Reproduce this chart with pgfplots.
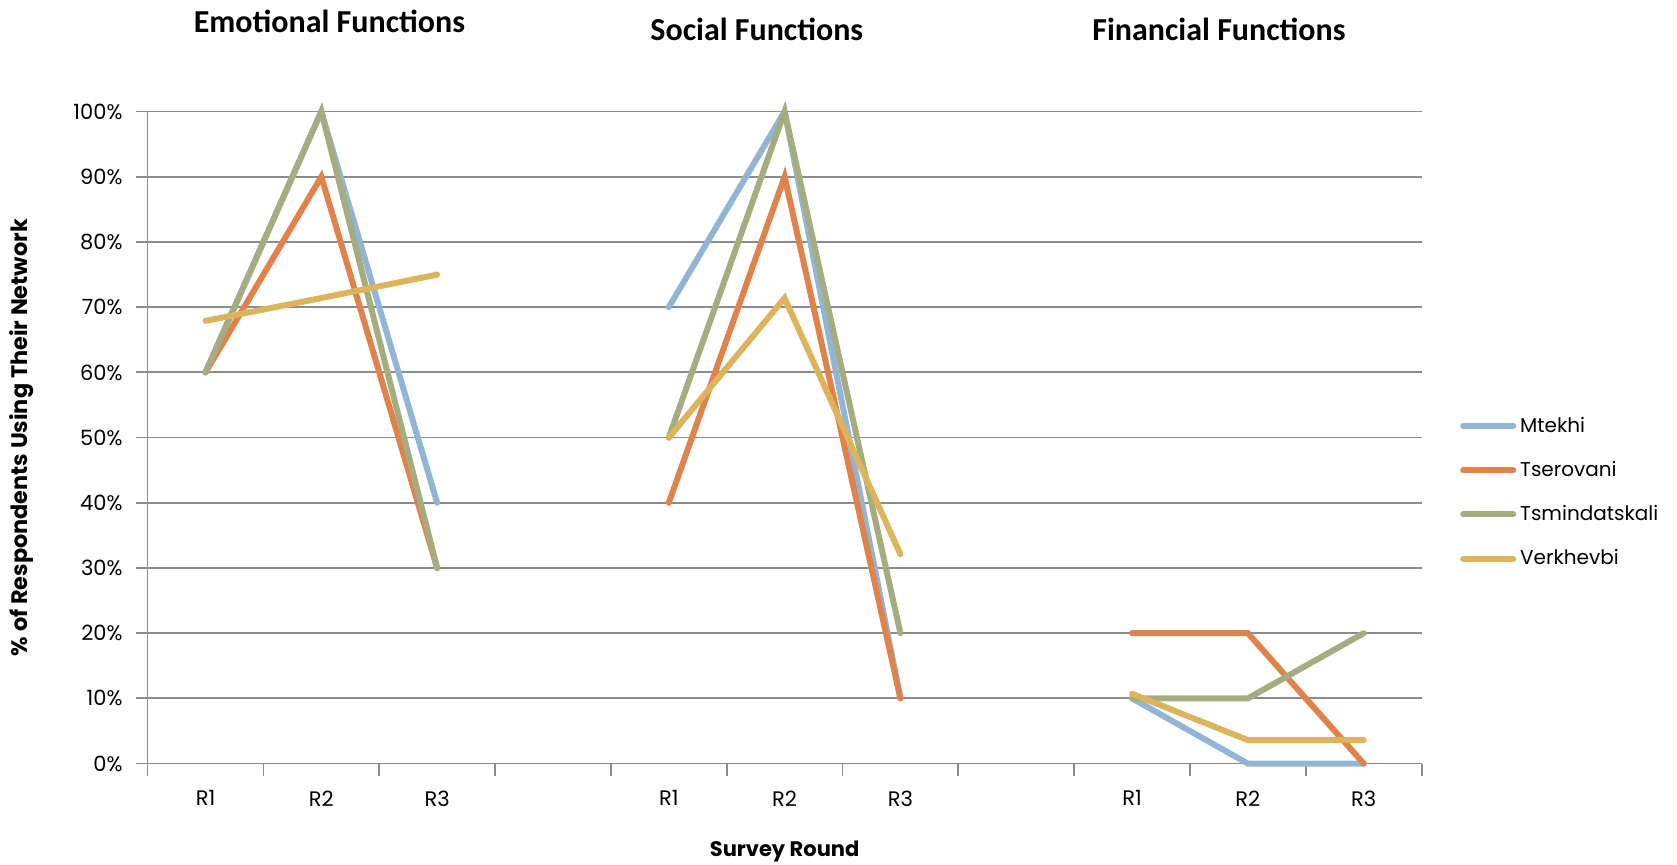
\documentclass[border=0pt]{standalone}
\usepackage{pgfplots}
\pgfplotsset{compat=1.18}
\usepackage{fontspec}
\setmainfont{Poppins}
\newfontfamily\titlefont{Carlito}
\definecolor{cMt}{HTML}{93B5D5}
\definecolor{cTs}{HTML}{E0824A}
\definecolor{cTm}{HTML}{A5AC80}
\definecolor{cVe}{HTML}{DDB45C}
\definecolor{gridc}{HTML}{8C8C8C}
\begin{document}
\begin{tikzpicture}
\begin{axis}[
  scale only axis, width=637pt, height=326pt,
  xmin=-0.5, xmax=10.5, ymin=0, ymax=100,
  axis x line*=bottom, axis y line*=left,
  axis line style={gridc, line width=0.9pt},
  xtick={-0.5,0.5,...,10.5}, xticklabels={},
  extra x ticks={0,1,2,4,5,6,8,9,10},
  extra x tick labels={R1,R2,R3,R1,R2,R3,R1,R2,R3},
  extra x tick style={major tick length=0pt, grid=none, tick label style={yshift=-10pt}},
  ytick={0,10,...,100},
  yticklabel={\pgfmathprintnumber{\tick}\%},
  /pgf/number format/assume math mode=true,
  ymajorgrids, grid style={gridc, line width=0.9pt},
  tick style={gridc, line width=0.9pt},
  major tick length=6pt,
  tick align=outside,
  tick label style={font=\fontsize{10.5}{12}\selectfont},
  yticklabel style={xshift=-3pt},
  unbounded coords=jump,
  clip=false,
  legend style={at={(rel axis cs:1.03,0.416)}, anchor=west, draw=none, fill=none,
    font=\fontsize{10}{12}\selectfont, row sep=9pt, inner xsep=0pt,
    legend cell align=left},
  legend image code/.code={\draw[#1, line width=3pt, line cap=round] (0pt,0pt) -- (25pt,0pt);},
  every axis plot/.append style={line width=3pt, line cap=round, line join=miter, mark=none},
]
\addplot[cMt] coordinates {(0,60)(1,100)(2,40)(3,nan)(4,70)(5,100)(6,10)(7,nan)(8,10)(9,0)(10,0)};
\addlegendentry{Mtekhi}
\addplot[cTs] coordinates {(0,60)(1,90)(2,30)(3,nan)(4,40)(5,90)(6,10)(7,nan)(8,20)(9,20)(10,0)};
\addlegendentry{Tserovani}
\addplot[cTm] coordinates {(0,60)(1,100)(2,30)(3,nan)(4,50)(5,100)(6,20)(7,nan)(8,10)(9,10)(10,20)};
\addlegendentry{Tsmindatskali}
\addplot[cVe] coordinates {(0,67.9)(1,71.4)(2,75)(3,nan)(4,50)(5,71.4)(6,32.1)(7,nan)(8,10.7)(9,3.6)(10,3.6)};
\addlegendentry{Verkhevbi}
\node[font=\titlefont\bfseries\fontsize{16}{19}\selectfont] at (axis cs:1.07,100) [yshift=45pt] {Emotional Functions};
\node[font=\titlefont\bfseries\fontsize{16}{19}\selectfont] at (axis cs:4.76,100) [yshift=41pt] {Social Functions};
\node[font=\titlefont\bfseries\fontsize{16}{19}\selectfont] at (axis cs:8.75,100) [yshift=41pt] {Financial Functions};
\node[font=\bfseries\fontsize{10.5}{12}\selectfont] at (rel axis cs:0.5,0) [yshift=-44.2pt] {Survey Round};
\path (rel axis cs:0,0.5) ++(-62.8pt,0pt) node[font=\bfseries\fontsize{11.2}{13}\selectfont, rotate=90] {\% of Respondents Using Their Network};
\end{axis}
\pgfresetboundingbox
\path ([shift={(-73.8pt,-50.7pt)}]current axis.south west) rectangle ([shift={(764.7pt,381.8pt)}]current axis.south west);
\end{tikzpicture}
\end{document}
